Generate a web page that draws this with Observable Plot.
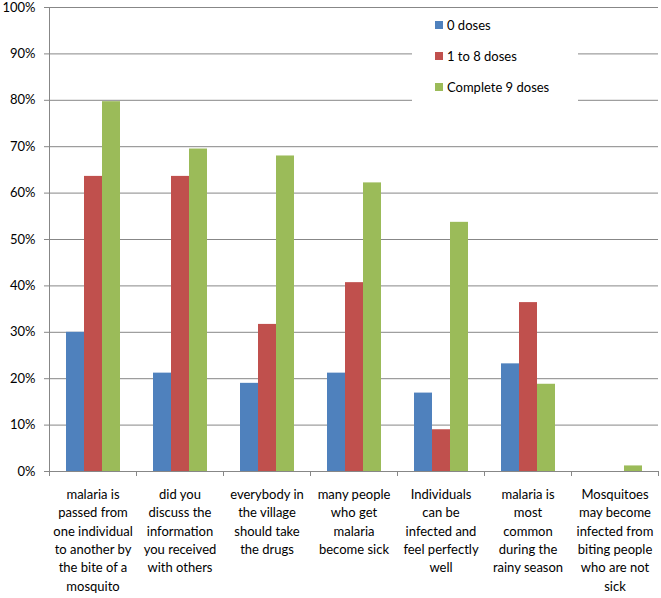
<!DOCTYPE html>
<html><head><meta charset="utf-8">
<script src="https://cdn.jsdelivr.net/npm/d3@7"></script>
<script src="https://cdn.jsdelivr.net/npm/@observablehq/plot@0.6"></script>
<style>
body{margin:0;background:#fff;font-family:Lato,sans-serif}
#chart{position:relative;width:661px;height:598px}
#legend{position:absolute;left:412px;top:9px;width:166px;height:94px;background:#fff}
.item{display:flex;align-items:center;height:31px;padding-left:23px;font-size:13px;color:#000;white-space:nowrap}
.sw{width:8px;height:8px;margin-right:4px}
</style></head>
<body><div id="chart"></div>
<script>
const categories = [
  "malaria is\npassed from\none individual\nto another by\nthe bite of a\nmosquito",
  "did you\ndiscuss the\ninformation\nyou received\nwith others",
  "everybody in\nthe village\nshould take\nthe drugs",
  "many people\nwho get\nmalaria\nbecome sick",
  "Individuals\ncan be\ninfected and\nfeel perfectly\nwell",
  "malaria is\nmost\ncommon\nduring the\nrainy season",
  "Mosquitoes\nmay become\ninfected from\nbiting people\nwho are not\nsick"
];
const series = ["0 doses", "1 to 8 doses", "Complete 9 doses"];
const zeroDoses  = [30.0, 21.2, 19.0, 21.2, 16.9, 23.2, 0];
const oneToEight = [63.6, 63.6, 31.7, 40.7, 9.0, 36.4, 0];
const complete9  = [79.7, 69.5, 68.0, 62.2, 53.7, 18.8, 1.2];
const colors = ["#4F81BD", "#C0504D", "#9BBB59"];
const yTicks = [0, 10, 20, 30, 40, 50, 60, 70, 80, 90, 100];

const valuesBySeries = [zeroDoses, oneToEight, complete9];
const data = [];
categories.forEach((c, i) => series.forEach((s, j) => data.push({category: c, series: s, value: valuesBySeries[j][i]})));

const W = 661, H = 598, mL = 49, mR = 3, mT = 7, mB = 127;
const half = (W - mL - mR) / categories.length / 2;
const grid = "#878787";

const plot = Plot.plot({
  width: W, height: H,
  marginLeft: mL, marginRight: mR, marginTop: mT, marginBottom: mB,
  style: {fontFamily: "Lato, sans-serif", fontSize: "13px", color: "#000", background: "#fff"},
  fx: {domain: categories, padding: 0, label: null},
  x: {domain: series, paddingInner: 0, paddingOuter: 0.79, axis: null},
  y: {domain: [0, 100], label: null},
  color: {domain: series, range: colors},
  marks: [
    Plot.gridY(yTicks, {stroke: grid, strokeOpacity: 1}),
    Plot.barY(data, {fx: "category", x: "series", y: "value", fill: "series"}),
    Plot.ruleY([0], {stroke: grid}),
    Plot.frame({anchor: "left", facetAnchor: "left", stroke: grid}),
    Plot.axisY(yTicks, {tickFormat: d => d + "%", tickSize: 5, tickPadding: 9, stroke: grid, label: null, fontSize: 13}),
    Plot.axisFx({anchor: "bottom", tickSize: 0, tickPadding: 14, lineHeight: 1.42, label: null, tickFormat: d => d, fontSize: 13}),
    Plot.axisFx({anchor: "bottom", tickSize: 5, dx: -half, tickFormat: () => "", label: null, stroke: grid}),
    Plot.axisFx({anchor: "bottom", tickSize: 5, dx: half, tickFormat: () => "", label: null, stroke: grid})
  ]
});
const chart = document.getElementById("chart");
chart.appendChild(plot);
const legend = document.createElement("div");
legend.id = "legend";
series.forEach((s, i) => {
  const it = document.createElement("div");
  it.className = "item";
  const sw = document.createElement("span");
  sw.className = "sw";
  sw.style.background = colors[i];
  it.appendChild(sw);
  it.appendChild(document.createTextNode(s));
  legend.appendChild(it);
});
chart.appendChild(legend);
</script>
</body></html>
